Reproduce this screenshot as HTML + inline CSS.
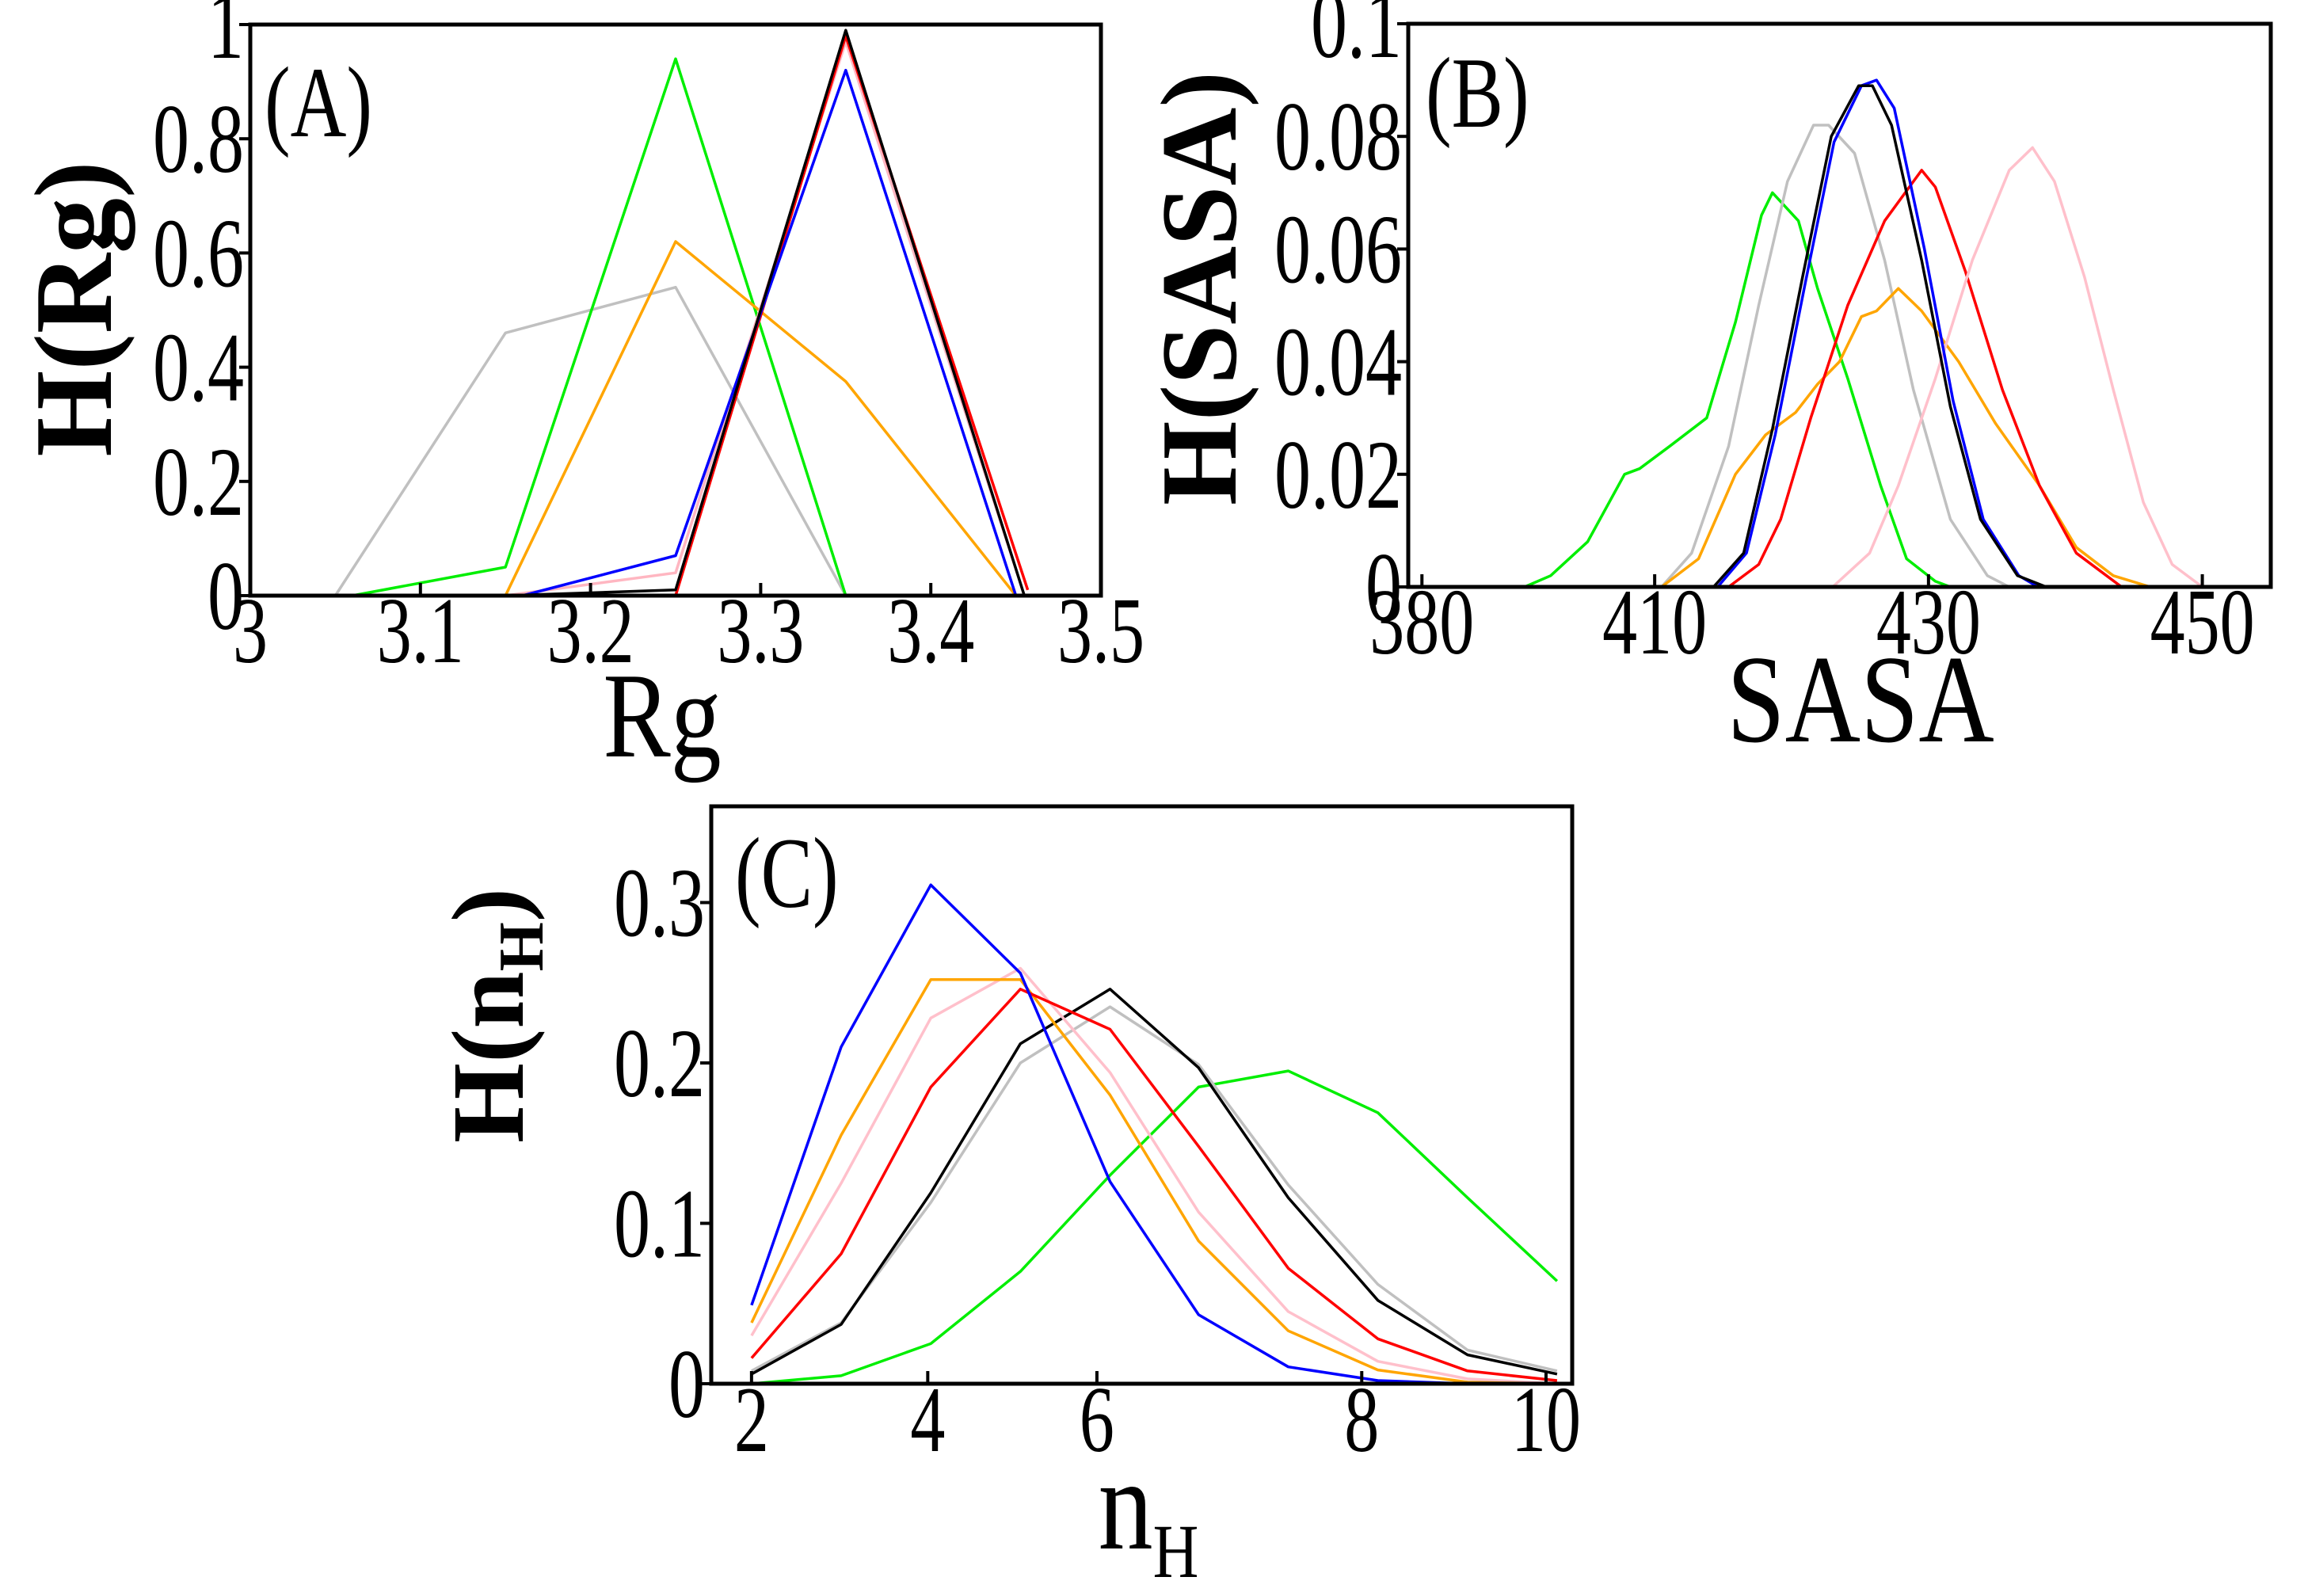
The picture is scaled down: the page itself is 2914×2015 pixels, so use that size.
<!DOCTYPE html>
<html><head><meta charset="utf-8"><style>
html,body{margin:0;padding:0;background:#fff;}
svg{display:block;font-family:"Liberation Serif",serif;}
</style></head><body>
<svg id="fig" width="2914" height="2015" viewBox="0 0 2914 2015" xmlns="http://www.w3.org/2000/svg"></svg>
<script>
// ---- Panel A data ----
const aSeriesColors = ["#c0c0c0","#00ee00","#ffa500","#0000ff","#ffb6c1","#000000","#ff0000"];
const aX_gray = [3.05,3.15,3.25,3.35];
const aY_gray = [0,0.46,0.54,0];
const aX_green = [3.06,3.15,3.25,3.35];
const aY_green = [0,0.05,0.94,0];
const aX_orange = [3.15,3.25,3.35,3.45];
const aY_orange = [0,0.62,0.375,0];
const aX_blue = [3.16,3.25,3.35,3.45];
const aY_blue = [0,0.07,0.92,0];
const aX_pink = [3.15,3.25,3.35,3.455];
const aY_pink = [0,0.04,0.97,0];
const aX_black = [3.15,3.25,3.35,3.455];
const aY_black = [0,0.01,0.99,0];
const aX_red = [3.25,3.35,3.457];
const aY_red = [0,0.98,0.01];
const aXTicks = [3,3.1,3.2,3.3,3.4,3.5];
const aXTickLabels = ["3","3.1","3.2","3.3","3.4","3.5"];
const aYTicks = [0,0.2,0.4,0.6,0.8,1];
const aYTickLabels = ["0","0.2","0.4","0.6","0.8","1"];

// ---- Panel B data ----
const bX_green = [400.5,402.4,405.1,407.8,408.9,411.1,413.8,415.9,417.8,418.6,420.5,421.9,424.1,426.5,428.4,430.5,431.6];
const bY_green = [0,0.002,0.008,0.02,0.021,0.025,0.03,0.047,0.066,0.07,0.065,0.053,0.037,0.018,0.005,0.001,0];
const bX_gray = [410.5,412.7,415.4,417.6,419.7,421.6,422.7,424.6,426.8,428.9,431.6,434.3,435.9];
const bY_gray = [0,0.006,0.025,0.05,0.072,0.082,0.082,0.077,0.058,0.035,0.012,0.002,0];
const bX_orange = [410.5,413.2,415.9,418.1,420.3,421.9,423.5,425.1,426.2,427.8,429.5,432.2,434.9,438.1,440.8,443.5,446.2];
const bY_orange = [0,0.005,0.02,0.027,0.031,0.036,0.04,0.048,0.049,0.053,0.049,0.04,0.029,0.018,0.007,0.002,0];
const bX_red = [415.4,417.6,419.2,421.4,424.1,426.8,429.5,430.5,432.7,435.4,438.1,440.8,444.1];
const bY_red = [0,0.004,0.012,0.03,0.05,0.065,0.074,0.071,0.056,0.035,0.018,0.006,0];
const bX_pink = [423,425.7,427.8,430.5,433.2,435.9,437.6,439.2,441.4,443.5,445.7,447.8,450];
const bY_pink = [0,0.006,0.018,0.037,0.058,0.074,0.078,0.072,0.055,0.035,0.015,0.004,0];
const bX_blue = [414.6,416.7,418.8,421,423.1,425.1,426.2,427.5,429.7,431.8,434,436.6,438];
const bY_blue = [0,0.006,0.027,0.054,0.079,0.089,0.09,0.085,0.06,0.033,0.012,0.002,0];
const bX_black = [414.3,416.5,418.6,420.8,422.9,424.9,425.9,427.3,429.5,431.6,433.8,436.5,438.6];
const bY_black = [0,0.006,0.028,0.055,0.08,0.089,0.089,0.082,0.058,0.032,0.012,0.002,0];
const bXTicks = [393,410,430,450];
const bXTickLabels = ["380","410","430","450"];
const bYTicks = [0,0.02,0.04,0.06,0.08,0.1];
const bYTickLabels = ["0","0.02","0.04","0.06","0.08","0.1"];

// ---- Panel C data ----
const cX = [2,2.89,3.78,4.67,5.56,6.44,7.33,8.22,9.11,10];
const cY_blue = [0.049,0.21,0.311,0.256,0.126,0.043,0.0105,0.002,0,0];
const cY_orange = [0.038,0.155,0.252,0.252,0.18,0.089,0.033,0.0086,0.001,0];
const cY_pink = [0.03,0.125,0.228,0.259,0.194,0.107,0.045,0.014,0.003,0];
const cY_red = [0.016,0.081,0.185,0.246,0.221,0.148,0.072,0.028,0.008,0.002];
const cY_gray = [0.008,0.038,0.113,0.2,0.235,0.199,0.124,0.062,0.021,0.008];
const cY_black = [0.006,0.037,0.119,0.212,0.246,0.197,0.116,0.052,0.018,0.006];
const cY_green = [0,0.005,0.025,0.07,0.13,0.185,0.195,0.169,0.116,0.064];
const cXTicks = [2,3.75,5.43,8.06,9.89];
const cXTickLabels = ["2","4","6","8","10"];
const cYTicks = [0,0.1,0.2,0.3];
const cYTickLabels = ["0","0.1","0.2","0.3"];

const NS = "http://www.w3.org/2000/svg";
const svg = document.getElementById("fig");
function mk(tag, attrs, parent){
  const e = document.createElementNS(NS, tag);
  for (const k in attrs) e.setAttribute(k, attrs[k]);
  (parent||svg).appendChild(e);
  return e;
}
function lin(d0,d1,r0,r1){ return v => r0 + (v-d0)/(d1-d0)*(r1-r0); }

function panel(cfg){
  const g = mk("g",{});
  
  
  const xs = lin(cfg.xd[0],cfg.xd[1],cfg.L,cfg.R);
  const ys = lin(cfg.yd[0],cfg.yd[1],cfg.B,cfg.T);
  cfg.series.forEach(s=>{
    const pts = s.x.map((xv,i)=>xs(xv).toFixed(1)+","+ys(s.y[i]).toFixed(1)).join(" ");
    const p = mk("polyline",{points:pts,fill:"none",stroke:s.color,"stroke-width":3.5,"stroke-linejoin":"round"},g);
    
    
  });
  const f = mk("rect",{x:cfg.L,y:cfg.T,width:cfg.R-cfg.L,height:cfg.B-cfg.T,fill:"none",stroke:"#000","stroke-width":5},g);
  
  
  cfg.yt.forEach((v,i)=>{
    const y = ys(v);
    mk("line",{x1:cfg.L-14,x2:cfg.L,y1:y,y2:y,stroke:"#000","stroke-width":4},g);
    const t = mk("text",{x:0,y:0,transform:"translate("+(cfg.L-8)+","+(y+42)+") scale(1,1.35)","text-anchor":"end","font-size":92},g);
    t.textContent = cfg.ytl[i];
    
    
  });
  cfg.xt.forEach((v,i)=>{
    const x = xs(v);
    mk("line",{x1:x,x2:x,y1:cfg.B,y2:cfg.B-16,stroke:"#000","stroke-width":4},g);
    const t = mk("text",{x:0,y:0,transform:"translate("+x+","+cfg.xty+") scale(1,1.35)","text-anchor":"middle","font-size":88},g);
    t.textContent = cfg.xtl[i];
    
    
  });
  return {xs,ys,g};
}

panel({name:"panel-a",prefix:"a",L:316,R:1390,T:31,B:752,xd:[3,3.5],yd:[0,1],
  xt:aXTicks,xtl:aXTickLabels,yt:aYTicks,ytl:aYTickLabels,xty:836,
  series:[
    {name:"gray",color:aSeriesColors[0],x:aX_gray,y:aY_gray},
    {name:"green",color:aSeriesColors[1],x:aX_green,y:aY_green},
    {name:"orange",color:aSeriesColors[2],x:aX_orange,y:aY_orange},
    {name:"pink",color:aSeriesColors[4],x:aX_pink,y:aY_pink},
    {name:"red",color:aSeriesColors[6],x:aX_red,y:aY_red},
    {name:"blue",color:aSeriesColors[3],x:aX_blue,y:aY_blue},
    {name:"black",color:aSeriesColors[5],x:aX_black,y:aY_black}
  ]});

panel({name:"panel-b",prefix:"b",L:1778,R:2867,T:30,B:741,xd:[392,455],yd:[0,0.1],
  xt:bXTicks,xtl:bXTickLabels,yt:bYTicks,ytl:bYTickLabels,xty:825,
  series:[
    {name:"green",color:"#00ee00",x:bX_green,y:bY_green},
    {name:"gray",color:"#c0c0c0",x:bX_gray,y:bY_gray},
    {name:"orange",color:"#ffa500",x:bX_orange,y:bY_orange},
    {name:"red",color:"#ff0000",x:bX_red,y:bY_red},
    {name:"pink",color:"#ffc0cb",x:bX_pink,y:bY_pink},
    {name:"blue",color:"#0000ff",x:bX_blue,y:bY_blue},
    {name:"black",color:"#000000",x:bX_black,y:bY_black}
  ]});

panel({name:"panel-c",prefix:"c",L:898,R:1985,T:1018,B:1747,xd:[1.6,10.15],yd:[0,0.36],
  xt:cXTicks,xtl:cXTickLabels,yt:cYTicks,ytl:cYTickLabels,xty:1832,
  series:[
    {name:"green",color:"#00ee00",x:cX,y:cY_green},
    {name:"gray",color:"#c0c0c0",x:cX,y:cY_gray},
    {name:"black",color:"#000000",x:cX,y:cY_black},
    {name:"pink",color:"#ffc0cb",x:cX,y:cY_pink},
    {name:"orange",color:"#ffa500",x:cX,y:cY_orange},
    {name:"red",color:"#ff0000",x:cX,y:cY_red},
    {name:"blue",color:"#0000ff",x:cX,y:cY_blue}
  ]});
</script>
<div style="position:absolute;left:0;top:0;width:2914px;height:2015px;pointer-events:none;">
<svg width="2914" height="2015" style="font-family:'Liberation Serif',serif;">
  <text transform="translate(334,172) scale(1,1.3)" font-size="98">(A)</text>
  <text transform="translate(1800,160) scale(1,1.3)" font-size="98">(B)</text>
  <text transform="translate(928,1145) scale(1,1.3)" font-size="98">(C)</text>
  <text transform="translate(836,955) scale(1,1.2)" font-size="128" text-anchor="middle">Rg</text>
  <text transform="translate(2349,936) scale(1,1.2)" font-size="132" text-anchor="middle">SASA</text>
  <text transform="translate(1450,1955) scale(1,1.2)" font-size="138" text-anchor="middle">n<tspan font-size="80" dy="30">H</tspan></text>
  <text transform="translate(140,390) rotate(-90)" font-size="140" font-weight="bold" text-anchor="middle">H(Rg)</text>
  <text transform="translate(1560,364) rotate(-90)" font-size="137" font-weight="bold" text-anchor="middle">H(SASA)</text>
  <text transform="translate(660,1282) rotate(-90)" font-size="130" font-weight="bold" text-anchor="middle">H(n<tspan font-size="80" dy="25">H</tspan><tspan dy="-25">)</tspan></text>
</svg>
</div>
</body></html>
